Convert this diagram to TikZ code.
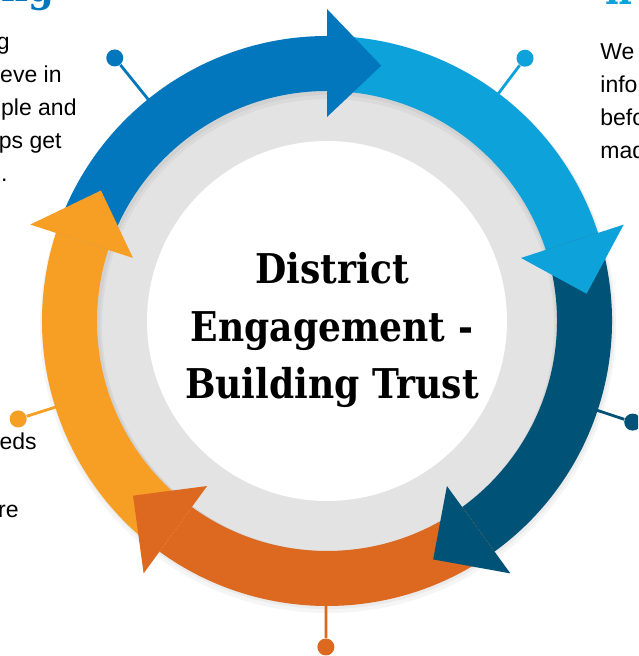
\documentclass[tikz,border=0pt]{standalone}
\usepackage{fontspec}
\setmainfont{Liberation Sans}
\newfontfamily\slabfont[FakeStretch=0.88]{DejaVu Serif}
\definecolor{ringblue}{RGB}{2,119,189}
\definecolor{ringsky}{RGB}{14,162,219}
\definecolor{ringnavy}{RGB}{0,83,118}
\definecolor{ringrust}{RGB}{221,104,31}
\definecolor{ringamber}{RGB}{247,159,37}
\definecolor{ringgray}{RGB}{227,227,227}

\begin{document}
\begin{tikzpicture}[
x=0.5pt, y=0.5pt,
pindot/.style={circle, inner sep=0pt, minimum size=8.5pt, draw=none},
pinline/.style={line width=1.4pt},
side/.style={font=\fontsize{11.5}{16.5}\selectfont, inner sep=0pt, anchor=base east},
sider/.style={side, anchor=base west},
head/.style={font=\slabfont\bfseries\fontsize{21}{25}\selectfont, inner sep=0pt},
title/.style={font=\slabfont\bfseries\fontsize{20.5}{28.75}\selectfont, align=center, inner sep=0pt}
]
\useasboundingbox (0,0) rectangle (638,656);
\clip (0,0) rectangle (638,656);
\fill[white] (0,0) rectangle (638,656);

\coordinate (ctr) at (327,335);

\begin{scope}[shift={(ctr)}]
% grey ring and soft shadow
\fill[ringgray] (0,0) circle[radius=236];
\fill[white] (0,0) circle[radius=180];
\fill[black, opacity=0.04, even odd rule] (1,-4) circle[radius=288] (1,-4) circle[radius=226];
\fill[black, opacity=0.04, even odd rule] (1,-2) circle[radius=286] (1,-2) circle[radius=228];

% pins
\node[pindot, fill=ringblue] (pinA) at (128.9:338) {};
\node[pindot, fill=ringsky] (pinB) at (53:329) {};
\node[pindot, fill=ringnavy] (pinC) at (-18.3:322) {};
\node[pindot, fill=ringrust] (pinD) at (-90.2:326) {};
\node[pindot, fill=ringamber] (pinE) at (197.6:324) {};
\coordinate (endA) at (128.9:280);
\coordinate (endB) at (53:280);
\coordinate (endC) at (-18.3:280);
\coordinate (endD) at (-90.2:280);
\coordinate (endE) at (197.6:280);
\draw[pinline, ringblue] (pinA) -- (endA);
\draw[pinline, ringsky] (pinB) -- (endB);
\draw[pinline, ringnavy] (pinC) -- (endC);
\draw[pinline, ringrust] (pinD) -- (endD);
\draw[pinline, ringamber] (pinE) -- (endE);

% bands
\fill[ringblue] (162:285) arc[start angle=162, end angle=90, radius=285] -- (90:230) arc[start angle=90, end angle=162, radius=230] -- cycle;
\fill[ringsky] (90:285) arc[start angle=90, end angle=18, radius=285] -- (18:230) arc[start angle=18, end angle=90, radius=230] -- cycle;
\fill[ringnavy] (18:285) arc[start angle=18, end angle=-54, radius=285] -- (-54:230) arc[start angle=-54, end angle=18, radius=230] -- cycle;
\fill[ringrust] (-54:285) arc[start angle=-54, end angle=-126, radius=285] -- (-126:230) arc[start angle=-126, end angle=-54, radius=230] -- cycle;
\fill[ringamber] (-126:285) arc[start angle=-126, end angle=-198, radius=285] -- (-198:230) arc[start angle=-198, end angle=-126, radius=230] -- cycle;

% arrow heads
\fill[ringblue] (90:204) -- (90:312) -- (78:261) -- cycle;
\fill[ringsky] (18:204) -- (18:312) -- (6:261) -- cycle;
\fill[ringnavy] (-54:204) -- (-54:312) -- (-66:261) -- cycle;
\fill[ringrust] (-126:204) -- (-126:312) -- (-138:261) -- cycle;
\fill[ringamber] (162:204) -- (162:312) -- (150:261) -- cycle;

\node[title] (title) at (5,-9) {District\\Engagement -\\Building Trust};
\end{scope}

% cut-off texts at the sides
\node[head, text=ringblue, anchor=base east] (lhead) at (55,654) {ng};
\node[head, text=ringsky, anchor=base west] (rhead) at (605,651) {n};
\node[side] (lt1) at (10,606) {g};
\node[side] (lt2) at (62,573) {eve in};
\node[side] (lt3) at (77,540) {ple and};
\node[side] (lt4) at (62,507) {ps get};
\node[side] (lt5) at (8,474) {l.};
\node[side] (lb1) at (37,206) {eeds};
\node[side] (lb2) at (19,138) {re};
\node[sider] (rt1) at (600,596) {We};
\node[sider] (rt2) at (600,563) {info};
\node[sider] (rt3) at (600,530) {befo};
\node[sider] (rt4) at (600,497) {mad};

\end{tikzpicture}
\end{document}
